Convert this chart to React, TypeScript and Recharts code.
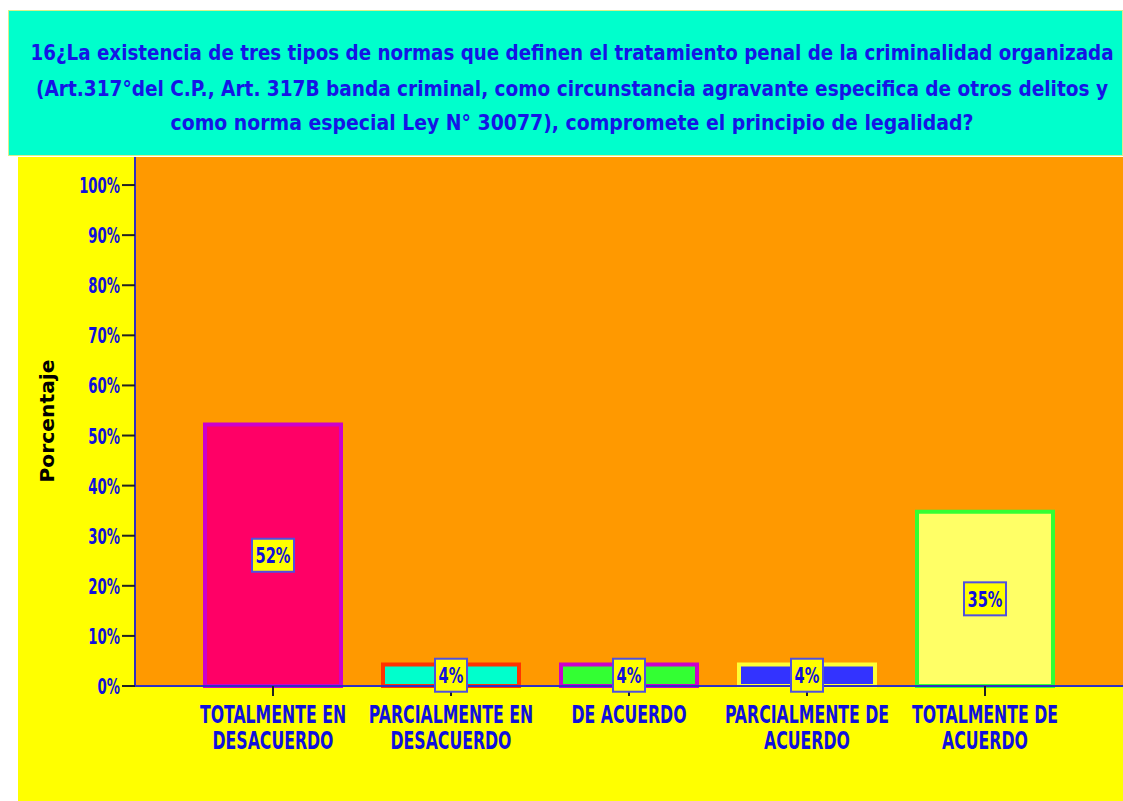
import React from 'react'
import { BarChart, Bar, XAxis, YAxis, CartesianGrid, Cell, LabelList } from 'recharts'

const CATEGORIES = [
  'TOTALMENTE EN DESACUERDO',
  'PARCIALMENTE EN DESACUERDO',
  'DE ACUERDO',
  'PARCIALMENTE DE ACUERDO',
  'TOTALMENTE DE ACUERDO',
]
const PERCENTS = [52.2, 4.3, 4.3, 4.3, 34.8]
const Y_TICKS = [0, 10, 20, 30, 40, 50, 60, 70, 80, 90, 100]
const FILLS = ['#FF0066', '#00FFCC', '#33FF33', '#3333FF', '#FFFF66']
const STROKES = ['#CC00CC', '#FF3300', '#CC00CC', '#FFFF33', '#33FF33']
const TITLE_LINES = [
  '16¿La existencia de tres tipos de normas que definen el tratamiento penal de la criminalidad organizada',
  '(Art.317°del C.P., Art. 317B banda criminal, como circunstancia agravante especifica de otros delitos y',
  'como norma especial Ley N° 30077), compromete el principio de legalidad?',
]

const data = CATEGORIES.map((name, i) => ({ name, value: PERCENTS[i] }))

const FONT = '"DejaVu Sans Condensed", "DejaVu Sans", sans-serif'
const BLUE = '#1010DD'

// break before the last word when the label has more than two words
const splitLabel = (s: string) => {
  const words = s.split(' ')
  if (words.length <= 2) return [s]
  return [words.slice(0, -1).join(' '), words[words.length - 1]]
}

const XTick = ({ x, y, payload }: any) => {
  const lines = splitLabel(payload.value)
  return (
    <g transform={`translate(${x},${y})`}>
      {lines.map((l, i) => (
        <text
          key={i}
          transform={`translate(0,${25 + i * 26}) scale(0.7,1)`}
          textAnchor="middle"
          fill={BLUE}
          fontFamily={FONT}
          fontWeight="bold"
          fontSize={25}
        >
          {l}
        </text>
      ))}
    </g>
  )
}

const YTick = ({ x, y, payload }: any) => (
  <g transform={`translate(${x},${y})`}>
    <text
      transform={`scale(0.7,1)`}
      textAnchor="end"
      dy={8}
      fill={BLUE}
      fontFamily={FONT}
      fontWeight="bold"
      fontSize={21}
    >
      {payload.value}%
    </text>
  </g>
)

const ValueLabel = (props: any) => {
  const { x, y, width, height, value } = props
  const cx = x + width / 2
  const cy = y + height / 2
  const txt = `${Math.round(value)}%`
  const w = 12 + txt.length * 10
  return (
    <g>
      <rect
        x={cx - w / 2}
        y={cy - 16.5}
        width={w}
        height={33}
        fill="#FFFF00"
        stroke="#5050E0"
        strokeWidth={2}
      />
      <g transform={`translate(${cx},${cy + 8})`}>
        <text
          transform="scale(0.74,1)"
          textAnchor="middle"
          fill={BLUE}
          fontFamily={FONT}
          fontWeight="bold"
          fontSize={22}
        >
          {txt}
        </text>
      </g>
    </g>
  )
}

const YLabel = () => (
  <text
    x={36}
    y={264}
    transform="rotate(-90 36 264)"
    textAnchor="middle"
    fill="#000"
    fontFamily={FONT}
    fontWeight="bold"
    fontSize={20}
    textLength={123}
    lengthAdjust="spacingAndGlyphs"
  >
    Porcentaje
  </text>
)

const TITLE_WIDTHS = [1083, 1072, 803]
const TITLE_BASES = [50, 86, 120]

export default function App() {
  return (
    <div
      style={{
        position: 'absolute',
        left: 0,
        top: 0,
        width: 1123,
        height: 801,
        background: '#fff',
        overflow: 'hidden',
      }}
    >
      <div
        style={{
          position: 'absolute',
          left: 18,
          top: 157,
          width: 1105,
          height: 644,
          background: '#FFFF00',
        }}
      >
        <BarChart
          width={1105}
          height={644}
          data={data}
          margin={{ top: 0, right: 0, bottom: 0, left: 0 }}
          barCategoryGap={21}
        >
          <CartesianGrid fill="#FF9900" horizontal={false} vertical={false} stroke="none" />
          <XAxis
            dataKey="name"
            interval={0}
            height={115}
            padding={{ left: 49, right: 49 }}
            axisLine={{ stroke: '#3030C0', strokeWidth: 2 }}
            tickLine={{ stroke: '#222', strokeWidth: 2 }}
            tickSize={10}
            tick={<XTick />}
          />
          <YAxis
            width={117}
            domain={[0, 105.6]}
            ticks={Y_TICKS}
            interval={0}
            axisLine={{ stroke: '#3030C0', strokeWidth: 2 }}
            tickLine={{ stroke: '#222', strokeWidth: 2 }}
            tickSize={13}
            tick={<YTick />}
            label={{ content: () => <YLabel /> }}
          />
          <Bar dataKey="value" strokeWidth={4} isAnimationActive={false}>
            {data.map((d, i) => (
              <Cell key={d.name} fill={FILLS[i]} stroke={STROKES[i]} />
            ))}
            <LabelList dataKey="value" content={<ValueLabel />} />
          </Bar>
        </BarChart>
      </div>
      <div
        style={{
          position: 'absolute',
          left: 8,
          top: 10,
          width: 1115,
          height: 146,
          background: '#00FFCC',
          boxShadow: 'inset 0 0 0 1px #D8F08A',
        }}
      >
        <svg width={1115} height={146}>
          {TITLE_LINES.map((l, i) => (
            <text
              key={i}
              x={564}
              y={TITLE_BASES[i]}
              textAnchor="middle"
              fill="#1515E5"
              fontFamily={FONT}
              fontWeight="bold"
              fontSize={21}
              textLength={TITLE_WIDTHS[i]}
              lengthAdjust="spacingAndGlyphs"
            >
              {l}
            </text>
          ))}
        </svg>
      </div>
    </div>
  )
}
